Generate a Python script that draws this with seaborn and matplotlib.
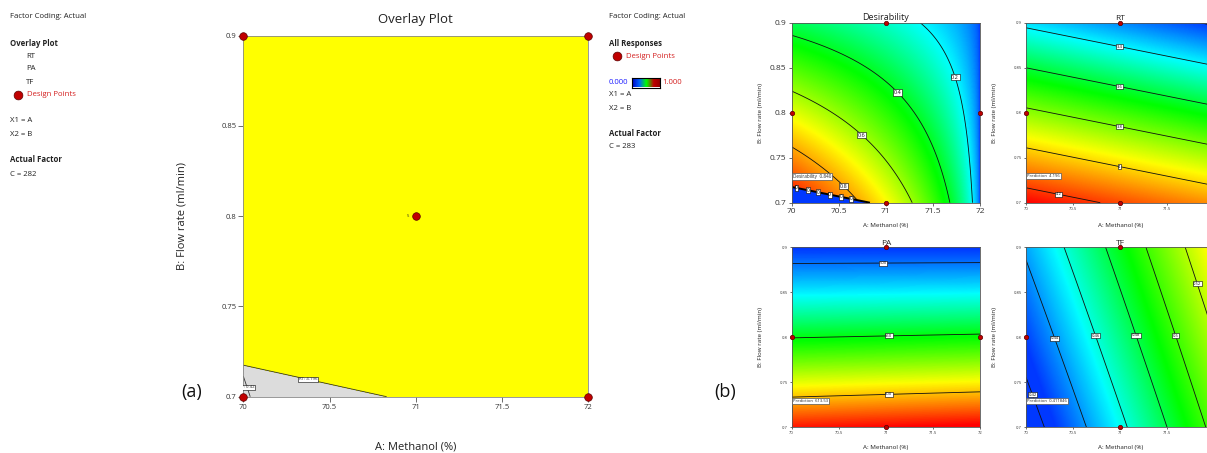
import numpy as np
import matplotlib
matplotlib.use('Agg')
import matplotlib.pyplot as plt
import seaborn as sns
import pandas as pd
from matplotlib.colors import LinearSegmentedColormap

# ---------------- data ----------------
A_range = [70, 72]
B_range = [0.7, 0.9]
x_ticks = [70, 70.5, 71, 71.5, 72]
x_tick_labels = ['70', '70.5', '71', '71.5', '72']
y_ticks = [0.7, 0.75, 0.8, 0.85, 0.9]
y_tick_labels = ['0.7', '0.75', '0.8', '0.85', '0.9']

# design points
overlay_pts_A = [70, 72, 70, 72, 71]
overlay_pts_B = [0.9, 0.9, 0.7, 0.7, 0.8]
center_replicates = '5'
resp_pts_A = [71, 70, 72, 71]
resp_pts_B = [0.9, 0.8, 0.8, 0.7]

# response-surface models, coded x1=(A-71)/1, x2=(B-0.8)/0.1 : [b0, b1, b2, b11, b22, b12]
rt_coef = [3.73, -0.0946, -0.45, 0.0, 0.0, 0.0]
pa_coef = [551.06, 1.5, -70.48, 0.0, 10.41, -1.5]
tf_coef = [0.4718, 0.0465, 0.01535, 0.0015, 0.0, 0.0]
tf_c_effect = -0.0068          # TF change per unit of C above 283
C_overlay = 282
C_responses = 283

# desirability = sqrt(dA * dB), dA = (A_high-A)/A_span, dB = ((B_high-B)/B_span)^2, 0 where RT > limit
des_A_high, des_A_span = 72.0, 2.0
des_B_high, des_B_span = 1.01, 0.31
RT_limit = 4.196
TF_limit = 0.42

rt_levels_unlabelled = [3.2]
rt_levels = [3.4, 3.6, 3.8, 4.0, 4.2]
pa_levels = [500, 550, 600]
tf_levels = [0.42, 0.44, 0.46, 0.48, 0.5, 0.52]
des_levels = [0.2, 0.4, 0.6, 0.8]

optimum_A, optimum_B = 70.0, 0.7165
flag_des = 'Desirability  0.840'
flag_rt = 'Prediction  4.196'
flag_pa = 'Prediction  613.53'
flag_tf = 'Prediction  0.411846'

rt_crange = [3.185, 4.275]
pa_crange = [491, 632]
tf_crange = [0.425, 0.577]
des_crange = [0.0, 1.0]

# ---------------- style ----------------
sns.set_theme(style='white')
plt.rcParams['font.family'] = ['Open Sans', 'Noto Sans', 'DejaVu Sans']

W, H = 1207, 453
fig = plt.figure(figsize=(W / 100, H / 100), dpi=100)
fig.patch.set_facecolor('white')

cmap = LinearSegmentedColormap.from_list(
    'de', [(0, '#0038FF'), (0.2, '#00FFFF'), (0.43, '#00FF00'), (0.7, '#FFFF00'), (1, '#FF0000')])

AA, BB = np.meshgrid(np.linspace(A_range[0], A_range[1], 401), np.linspace(B_range[0], B_range[1], 401))
X1 = AA - 71.0
X2 = (BB - 0.8) / 0.1


def quad(c, x1, x2):
    return c[0] + c[1] * x1 + c[2] * x2 + c[3] * x1 ** 2 + c[4] * x2 ** 2 + c[5] * x1 * x2


RT = quad(rt_coef, X1, X2)
PA = quad(pa_coef, X1, X2)
TF283 = quad(tf_coef, X1, X2) + tf_c_effect * (C_responses - 283)
TF282 = quad(tf_coef, X1, X2) + tf_c_effect * (C_overlay - 283)
dA = np.clip((des_A_high - AA) / des_A_span, 0, 1)
dB = np.clip((des_B_high - BB) / des_B_span, 0, 1) ** 2
DES = np.sqrt(dA * dB)
fail_rt = RT > RT_limit
DES[fail_rt] = 0.0
DES_lines = np.ma.masked_where(fail_rt, DES)


def style_axes(ax, tick_fs, tlen, spine_c='#555555', hide_last_x=False):
    ax.set_xlim(*A_range)
    ax.set_ylim(*B_range)
    ax.set_xticks(x_ticks)
    xl = list(x_tick_labels)
    if hide_last_x:
        xl[-1] = ''
    ax.set_xticklabels(xl)
    ax.set_yticks(y_ticks)
    ax.set_yticklabels(y_tick_labels)
    ax.tick_params(bottom=True, left=True, direction='out', length=tlen, width=0.5,
                   labelsize=tick_fs, pad=1.5, colors='#333333')
    for s in ax.spines.values():
        s.set_color(spine_c)
        s.set_linewidth(0.6)
        s.set_visible(True)


def design_points(ax, xs, ys, size):
    df = pd.DataFrame({'A': xs, 'B': ys})
    sns.scatterplot(data=df, x='A', y='B', ax=ax, color='#C00000', edgecolor='#5a0000',
                    linewidth=0.5, s=size, zorder=6, legend=False, clip_on=False)


def labels(ax, fsz, xl_y, yl_x):
    ax.set_xlabel('A: Methanol (%)', fontsize=fsz, color='#222222')
    ax.set_ylabel('B: Flow rate (ml/min)', fontsize=fsz, color='#222222')
    ax.xaxis.set_label_coords(0.5, xl_y)
    ax.yaxis.set_label_coords(yl_x, 0.5)


def boxed(texts):
    for t in texts:
        t.set_rotation(0)
        t.set_zorder(8)
        t.set_bbox(dict(boxstyle='square,pad=0.12', fc='white', ec='black', lw=0.4))


# ---------------- (a) overlay plot ----------------
axo = fig.add_axes([243.3 / W, 1 - 396.7 / H, 345 / W, 361 / H])
margin = np.minimum((RT_limit - RT) / 0.45, (TF282 - TF_limit) / 0.0154)
axo.contourf(AA, BB, margin, levels=[-100, 0, 100], colors=['#DCDCDC', '#FFFF00'])
cs_rt = axo.contour(AA, BB, RT, levels=[RT_limit], colors='#333333', linewidths=0.6)
cs_tf = axo.contour(AA, BB, TF282, levels=[TF_limit], colors='#333333', linewidths=0.6)
boxed(axo.clabel(cs_rt, manual=[(70.377, 0.7107)], fmt={RT_limit: 'RT: 4.196'}, fontsize=3.2, inline=False))
boxed(axo.clabel(cs_tf, manual=[(70.065, 0.7065)], fmt={TF_limit: 'TF: 0.42'}, fontsize=3.2, inline=False))
design_points(axo, overlay_pts_A, overlay_pts_B, 30)
axo.annotate(center_replicates, (overlay_pts_A[4], overlay_pts_B[4]), xytext=(-5, 0),
             textcoords='offset points', ha='right', va='center', fontsize=3, zorder=7)
style_axes(axo, 5.5, 3.5, '#888888')
axo.set_title('Overlay Plot', fontsize=9.5, pad=9, color='#222222')
labels(axo, 8, -0.125, -0.163)

# ---------------- (b) response panels ----------------
pw, ph = 188.3 / W, 180 / H
pos = {'des': [791.7 / W, 1 - 202.7 / H], 'rt': [1026 / W, 1 - 202.7 / H],
       'pa': [791.7 / W, 1 - 427.3 / H], 'tf': [1026 / W, 1 - 427.3 / H]}


def flag(ax, text, fs):
    ax.plot([optimum_A, optimum_A], [optimum_B, 0.7245], color='#555555', lw=0.5, zorder=7, clip_on=False)
    ax.text(optimum_A + 0.01, 0.7295, text, fontsize=fs, ha='left', va='center', zorder=8,
            bbox=dict(boxstyle='square,pad=0.2', fc='white', ec='#555555', lw=0.5))


# Desirability
axd = fig.add_axes(pos['des'] + [pw, ph])
axd.pcolormesh(AA, BB, DES, cmap=cmap, vmin=des_crange[0], vmax=des_crange[1], shading='gouraud', rasterized=True)
csd = axd.contour(AA, BB, DES_lines, levels=des_levels, colors='#111111', linewidths=0.6)
boxed(axd.clabel(csd, manual=[(71.75, 0.84), (71.15, 0.825), (70.77, 0.778), (70.57, 0.72)],
                 fmt=lambda v: f'{v:g}', fontsize=4, inline=False))
csz = axd.contour(AA, BB, RT, levels=[RT_limit], colors='black', linewidths=1.4)
boxed(axd.clabel(csz, manual=[(70.05, 0.716), (70.17, 0.713), (70.28, 0.711), (70.40, 0.708),
                              (70.52, 0.706), (70.63, 0.703)], fmt={RT_limit: '0'}, fontsize=3.5, inline=False))
flag(axd, flag_des, 3.3)
design_points(axd, resp_pts_A, resp_pts_B, 10)
style_axes(axd, 6, 2.5)
axd.set_title('Desirability', fontsize=6.5, pad=2, color='#222222')
labels(axd, 4.5, -0.115, -0.155)

# RT
axr = fig.add_axes(pos['rt'] + [pw, ph])
axr.pcolormesh(AA, BB, RT, cmap=cmap, vmin=rt_crange[0], vmax=rt_crange[1], shading='gouraud', rasterized=True)
axr.contour(AA, BB, RT, levels=rt_levels_unlabelled, colors='#111111', linewidths=0.6)
csr = axr.contour(AA, BB, RT, levels=rt_levels, colors='#111111', linewidths=0.6)
boxed(axr.clabel(csr, manual=[(71, 0.876), (71, 0.831), (71, 0.787), (71, 0.744), (70.35, 0.711)],
                 fmt=lambda v: f'{v:g}', fontsize=3, inline=False))
flag(axr, flag_rt, 3)
design_points(axr, resp_pts_A, resp_pts_B, 10)
style_axes(axr, 3, 1.5, hide_last_x=True)
axr.set_title('RT', fontsize=6, pad=2, color='#222222')
labels(axr, 4.5, -0.115, -0.153)

# PA
axp = fig.add_axes(pos['pa'] + [pw, ph])
axp.pcolormesh(AA, BB, PA, cmap=cmap, vmin=pa_crange[0], vmax=pa_crange[1], shading='gouraud', rasterized=True)
csp = axp.contour(AA, BB, PA, levels=pa_levels, colors='#111111', linewidths=0.6)
boxed(axp.clabel(csp, manual=[(70.97, 0.883), (71.03, 0.803), (71.03, 0.736)],
                 fmt=lambda v: f'{v:g}', fontsize=3, inline=False))
flag(axp, flag_pa, 3)
design_points(axp, resp_pts_A, resp_pts_B, 10)
style_axes(axp, 3, 1.5)
axp.set_title('PA', fontsize=6, pad=2, color='#222222')
labels(axp, 4.5, -0.098, -0.155)

# TF
axt = fig.add_axes(pos['tf'] + [pw, ph])
axt.pcolormesh(AA, BB, TF283, cmap=cmap, vmin=tf_crange[0], vmax=tf_crange[1], shading='gouraud', rasterized=True)
cst = axt.contour(AA, BB, TF283, levels=tf_levels, colors='#111111', linewidths=0.6)
boxed(axt.clabel(cst, manual=[(70.124, 0.738), (70.33, 0.80), (70.765, 0.803), (71.19, 0.803),
                              (71.62, 0.803), (71.86, 0.861)], fmt=lambda v: f'{v:g}', fontsize=3, inline=False))
flag(axt, flag_tf, 3)
design_points(axt, resp_pts_A, resp_pts_B, 10)
style_axes(axt, 3, 1.5, hide_last_x=True)
axt.set_title('TF', fontsize=6, pad=2, color='#222222')
labels(axt, 4.5, -0.098, -0.153)

# ---------------- legend texts ----------------
axbg = fig.add_axes([0, 0, 1, 1], zorder=-1)
axbg.set_xlim(0, W)
axbg.set_ylim(H, 0)
axbg.axis('off')
fs = 5.6
tc = '#222222'
red = '#D42020'

left_items = [(10, 16, 'Factor Coding: Actual', 'normal', tc), (10, 43, 'Overlay Plot', 'bold', tc),
              (26, 56, 'RT', 'normal', tc), (26, 69, 'PA', 'normal', tc), (26, 82, 'TF', 'normal', tc),
              (27, 95, 'Design Points', 'normal', red), (10, 121, 'X1 = A', 'normal', tc),
              (10, 134, 'X2 = B', 'normal', tc), (10, 160, 'Actual Factor', 'bold', tc),
              (10, 174, 'C = 282', 'normal', tc)]
mid_items = [(609, 16, 'Factor Coding: Actual', 'normal', tc), (609, 43, 'All Responses', 'bold', tc),
             (626, 56, 'Design Points', 'normal', red), (609, 82, '0.000', 'normal', '#2020FF'),
             (662, 82, '1.000', 'normal', red), (609, 95, 'X1 = A', 'normal', tc),
             (609, 108, 'X2 = B', 'normal', tc), (609, 134, 'Actual Factor', 'bold', tc),
             (609, 147, 'C = 283', 'normal', tc)]
for x, y, s, w, c in left_items + mid_items:
    axbg.text(x, y, s, fontsize=fs, fontweight=w, color=c, va='center', ha='left')
axbg.scatter([18, 617], [95, 56], s=40, color='#C00000', edgecolor='#5a0000', linewidth=0.5)

axcb = fig.add_axes([632 / W, 1 - 87.5 / H, 28 / W, 10 / H])
axcb.imshow(np.linspace(0, 1, 256)[None, :], aspect='auto', cmap=LinearSegmentedColormap.from_list(
    'leg', ['#0000C0', '#0060FF', '#00FF00', '#C00000', '#900000']))
axcb.set_xticks([])
axcb.set_yticks([])
for s in axcb.spines.values():
    s.set_color('black')
    s.set_linewidth(0.8)
    s.set_visible(True)

axbg.text(192, 392, '(a)', fontsize=13, va='center', ha='center', color='#111111')
axbg.text(725, 392, '(b)', fontsize=13, va='center', ha='center', color='#111111')

fig.savefig('out.png', dpi=100)
